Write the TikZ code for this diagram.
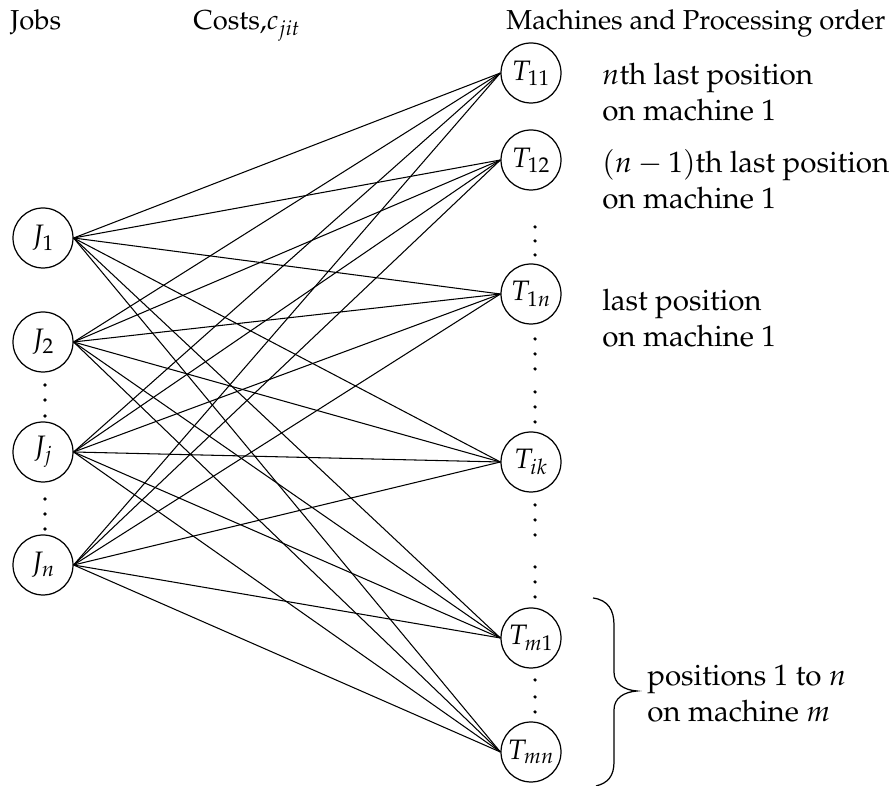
\documentclass[tikz,border=0pt]{standalone}
\usepackage[OT1]{fontenc}
\usepackage{mathpazo}
\begin{document}
\begin{tikzpicture}[x=0.02cm,y=-0.02cm,
  every node/.style={font=\fontsize{16}{20}\selectfont},
  vertex/.style={draw,circle,line width=0.7pt,minimum size=1.2cm,inner sep=0pt},
  link/.style={line width=0.6pt},
  note/.style={anchor=west,align=left,inner sep=0pt,font=\fontsize{16.8}{20.5}\selectfont},
  head/.style={anchor=base west,inner sep=0pt,font=\fontsize{15.6}{19}\selectfont},
  dotmark/.style={fill,circle,inner sep=0pt,minimum size=2pt}]
\useasboundingbox (0,0) rectangle (890,786);

% column headings
\node[head] (hjobs) at (10,30) {Jobs};
\node[head] (hcost) at (193,30) {Costs,$c_{jit}$};
\node[head] (hmach) at (506,30) {Machines and Processing order};

% jobs
\node[vertex] (J1) at (43,238) {$J_1$};
\node[vertex] (J2) at (43,342) {$J_2$};
\node[vertex] (Jj) at (43,452) {$J_j$};
\node[vertex] (Jn) at (43,565) {$J_n$};

% machine positions
\node[vertex] (T11) at (531,73)  {$T_{11}$};
\node[vertex] (T12) at (531,160) {$T_{12}$};
\node[vertex] (T1n) at (531,294) {$T_{1n}$};
\node[vertex] (Tik) at (531,462) {$T_{ik}$};
\node[vertex] (Tm1) at (531,638) {$T_{m1}$};
\node[vertex] (Tmn) at (531,752) {$T_{mn}$};

% every job may take every position
\foreach \a in {J1,J2,Jj,Jn}
  \foreach \b in {T11,T12,T1n,Tik,Tm1,Tmn}
    \draw[link] (\a.east) -- (\b.west);

% ellipsis dots
\foreach \y [count=\i] in {385,400,416,499,514,529}
  \node[dotmark] (ld\i) at (45,\y) {};
\foreach \y [count=\i] in {227,241,255,339,354,369,392,407,422,505,520,535,567,582,597,680,697,712}
  \node[dotmark] (rd\i) at (535,\y) {};

% position notes
\node[note] (n1) at (602,92)  {$n$th last position\\on machine 1};
\node[note] (n2) at (602,179) {$(n-1)$th last position\\on machine 1};
\node[note] (n3) at (602,318) {last position\\on machine 1};
\node[note] (n4) at (647,693) {positions 1 to $n$\\on machine $m$};

% brace grouping the positions on machine m
\draw[line width=0.7pt] (593,598) .. controls (608,600) and (614,610) .. (614,625)
  -- (614,672) .. controls (614,684) and (624,690) .. (637,691)
  .. controls (624,692) and (614,698) .. (614,710)
  -- (614,762) .. controls (614,776) and (608,783) .. (596,786);
\end{tikzpicture}
\end{document}
